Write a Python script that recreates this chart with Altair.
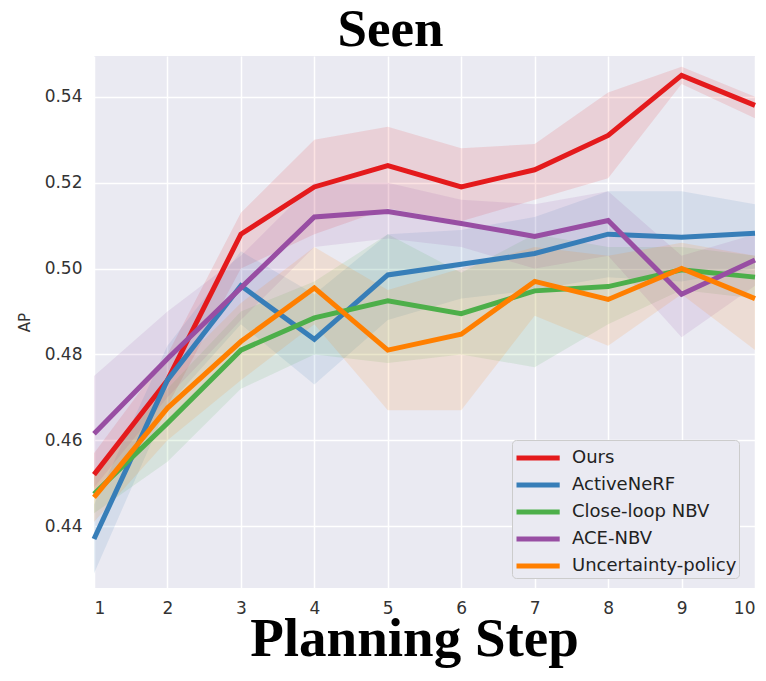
import altair as alt
import pandas as pd

steps = [1, 2, 3, 4, 5, 6, 7, 8, 9, 10]
methods = ["Ours", "ActiveNeRF", "Close-loop NBV", "ACE-NBV", "Uncertainty-policy"]
colors = ["#e41a1c", "#377eb8", "#4daf4a", "#984ea3", "#ff7f00"]

ours_mean = [0.452, 0.474, 0.508, 0.519, 0.524, 0.519, 0.523, 0.531, 0.545, 0.538]
ours_lo = [0.447, 0.468, 0.500, 0.508, 0.514, 0.511, 0.516, 0.521, 0.543, 0.535]
ours_hi = [0.457, 0.480, 0.513, 0.530, 0.533, 0.528, 0.529, 0.541, 0.547, 0.540]

active_mean = [0.437, 0.474, 0.496, 0.4835, 0.4985, 0.501, 0.5035, 0.508, 0.5073, 0.5082]
active_lo = [0.429, 0.468, 0.487, 0.473, 0.488, 0.493, 0.495, 0.498, 0.497, 0.500]
active_hi = [0.445, 0.482, 0.504, 0.494, 0.508, 0.509, 0.512, 0.518, 0.518, 0.515]

close_mean = [0.4475, 0.464, 0.481, 0.4885, 0.4925, 0.4895, 0.4948, 0.4958, 0.4997, 0.498]
close_lo = [0.443, 0.455, 0.472, 0.480, 0.478, 0.480, 0.477, 0.487, 0.495, 0.493]
close_hi = [0.453, 0.472, 0.490, 0.497, 0.508, 0.499, 0.508, 0.505, 0.505, 0.503]

ace_mean = [0.4615, 0.479, 0.4955, 0.512, 0.5133, 0.5105, 0.5075, 0.5112, 0.494, 0.502]
ace_lo = [0.449, 0.470, 0.488, 0.505, 0.507, 0.505, 0.500, 0.503, 0.484, 0.496]
ace_hi = [0.475, 0.490, 0.503, 0.520, 0.520, 0.516, 0.515, 0.518, 0.503, 0.508]

unc_mean = [0.4467, 0.4675, 0.483, 0.4955, 0.481, 0.4847, 0.497, 0.4928, 0.500, 0.493]
unc_lo = [0.441, 0.460, 0.474, 0.487, 0.467, 0.467, 0.489, 0.482, 0.494, 0.481]
unc_hi = [0.452, 0.475, 0.492, 0.505, 0.495, 0.500, 0.505, 0.503, 0.506, 0.503]

series = [
    (ours_mean, ours_lo, ours_hi),
    (active_mean, active_lo, active_hi),
    (close_mean, close_lo, close_hi),
    (ace_mean, ace_lo, ace_hi),
    (unc_mean, unc_lo, unc_hi),
]

rows = []
for name, (m, lo, hi) in zip(methods, series):
    for s, a, b, c in zip(steps, m, lo, hi):
        rows.append({"step": s, "method": name, "ap": a, "lo": b, "hi": c})
df = pd.DataFrame(rows)

x_scale = alt.Scale(domain=[1, 10], nice=False, zero=False)
y_scale = alt.Scale(domain=[0.4256, 0.5495], nice=False, zero=False)
color_scale = alt.Scale(domain=methods, range=colors)

x_axis = alt.Axis(
    values=steps, format="d", title="Planning Step",
    titleFont="Liberation Serif", titleFontSize=55, titleFontWeight="bold",
    titleColor="black", titleBaseline="alphabetic", titleX=320, titleY=67,
    labelFont="DejaVu Sans", labelFontSize=17, labelColor="#333333", labelPadding=12,
    grid=True, gridColor="white", gridWidth=1.5, domain=False, ticks=False,
)
y_axis = alt.Axis(
    values=[0.44, 0.46, 0.48, 0.50, 0.52, 0.54], format=".2f", title="AP",
    titleFont="DejaVu Sans", titleFontSize=15, titleFontWeight="normal",
    titleColor="#333333", titleX=-70, titleY=266, titleBaseline="middle", titleAngle=270,
    labelFont="DejaVu Sans", labelFontSize=17, labelColor="#333333", labelPadding=12,
    grid=True, gridColor="white", gridWidth=1.5, domain=False, ticks=False,
)

legend = alt.Legend(
    title=None, orient="none", legendX=418, legendY=384,
    symbolType="M-1,0H2.2", symbolSize=729, symbolStrokeWidth=5, symbolOpacity=1,
    labelFont="DejaVu Sans", labelFontSize=18, labelColor="#222222", labelLimit=300,
    labelOffset=26, rowPadding=1, padding=2,
    fillColor="#EAEAF2", strokeColor="#cccccc", cornerRadius=4,
)

bands = alt.Chart(df).mark_area(fillOpacity=0.12).encode(
    x=alt.X("step:Q", scale=x_scale, axis=x_axis),
    y=alt.Y("lo:Q", scale=y_scale, axis=y_axis),
    y2="hi:Q",
    color=alt.Color("method:N", scale=color_scale, sort=methods, legend=legend),
    detail="method:N",
)

lines = alt.Chart(df).mark_line(strokeWidth=5).encode(
    x=alt.X("step:Q", scale=x_scale),
    y=alt.Y("ap:Q", scale=y_scale),
    color=alt.Color("method:N", scale=color_scale, sort=methods, legend=legend),
)

chart = alt.layer(bands, lines).properties(
    width=661, height=532,
    background="white",
    title=alt.TitleParams(
        "Seen", font="Liberation Serif", fontSize=53, fontWeight="bold",
        color="black", anchor="middle", dx=-34, offset=-1,
    ),
    autosize=alt.AutoSizeParams(type="none"),
    padding={"left": 86, "top": 48, "right": 3, "bottom": 85},
).configure_view(fill="#EAEAF2", strokeWidth=0)

chart.save("out.html", embed_options={"renderer": "svg", "actions": False})
